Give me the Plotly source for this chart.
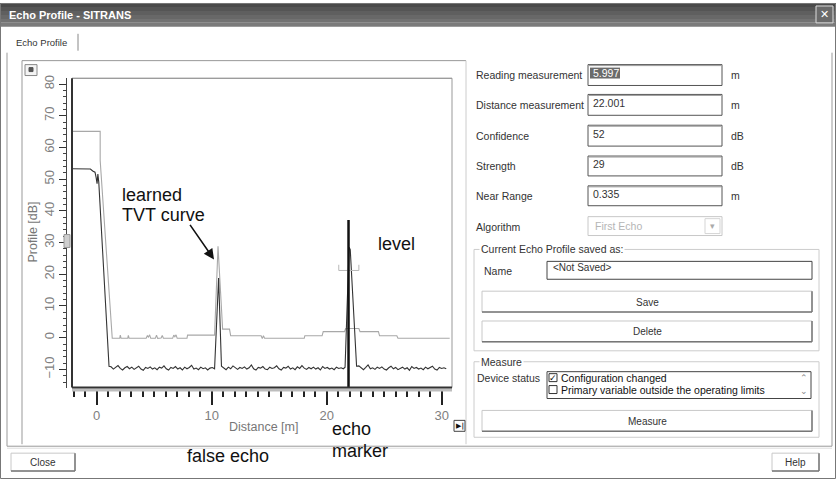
import plotly.graph_objects as go

# ---------------- data ----------------
# learned TVT curve (light grey)
tvt_distance = [-2.15, 0.3, 0.3, 1.35, 2.0, 2.05, 2.12, 2.7, 2.75, 2.82, 4.3, 4.4, 4.5, 4.6, 4.7,
                5.1, 5.2, 5.3, 5.6, 5.7, 5.8, 6.6, 6.7, 6.8, 6.9, 7.0, 7.85, 7.9, 10.25, 10.55,
                10.95, 11.55, 11.65, 14.3, 14.4, 14.5, 14.6, 18.05, 18.1, 19.6, 19.7, 21.55,
                21.65, 22.8, 22.9, 24.5, 24.6, 26.1, 26.2, 30.7]
tvt_db = [65.1, 65.1, 56.0, -0.2, -0.2, 0.8, -0.2, -0.2, 0.7, -0.2, -0.2, 0.6, 0.2, 0.9, -0.2,
          -0.2, 0.8, -0.2, -0.1, 0.7, -0.2, -0.2, 0.8, 0.3, 0.9, -0.2, -0.2, 0.8, 0.8, 28.8,
          2.7, 2.7, 0.6, 0.6, -0.3, 0.6, -0.2, -0.2, 0.6, 0.6, 1.9, 1.9,
          2.9, 2.9, 1.9, 1.9, 0.6, 0.6, -0.2, -0.2]

# echo profile (dark grey), in segments
echo_start_distance = [-2.15, -0.55, -0.35, -0.15, -0.05, 0.03, 0.1, 0.18, 1.07]
echo_start_db = [53.3, 53.2, 52.6, 52.2, 50.5, 48.6, 51.6, 49.0, -9.0]

echo_seg_a_distance = [1.25, 1.45, 1.65, 1.85, 2.05, 2.25, 2.45, 2.65, 2.85, 3.05,
                       3.25, 3.45, 3.65, 3.85, 4.05, 4.25, 4.45, 4.65, 4.85, 5.05,
                       5.25, 5.45, 5.65, 5.85, 6.05, 6.25, 6.45, 6.65, 6.85, 7.05,
                       7.25, 7.45, 7.65, 7.85, 8.05, 8.25, 8.45, 8.65, 8.85, 9.05,
                       9.25, 9.45, 9.65, 9.85, 10.05, 10.25]
echo_seg_a_db = [-9.2, -9.9, -9.4, -8.8, -9.7, -10.2, -9.5, -9.1, -9.8, -9.3,
                 -10.0, -9.6, -9.0, -9.9, -10.3, -9.4, -9.7, -9.2, -9.9, -9.5,
                 -10.1, -9.3, -9.6, -8.9, -9.8, -10.2, -9.4, -9.7, -9.1, -9.9,
                 -9.5, -10.2, -9.3, -9.8, -9.4, -8.7, -9.9, -9.6, -10.1, -9.3,
                 -9.8, -9.5, -10.2, -9.6, -9.4, -9.8]

false_echo_distance = [10.6, 10.85]
false_echo_db = [18.8, -9.0]

echo_seg_b_distance = [11.05, 11.25, 11.45, 11.65, 11.85, 12.05, 12.25, 12.45, 12.65, 12.85,
                       13.05, 13.25, 13.45, 13.65, 13.85, 14.05, 14.25, 14.45, 14.65, 14.85,
                       15.05, 15.25, 15.45, 15.65, 15.85, 16.05, 16.25, 16.45, 16.65, 16.85,
                       17.05, 17.25, 17.45, 17.65, 17.85, 18.05, 18.25, 18.45, 18.65, 18.85,
                       19.05, 19.25, 19.45, 19.65, 19.85, 20.05, 20.25, 20.45, 20.65, 20.85,
                       21.05, 21.25, 21.45]
echo_seg_b_db = [-9.6, -10.1, -9.3, -9.8, -8.9, -9.5, -10.0, -9.4, -9.7, -9.2,
                 -9.9, -9.5, -8.6, -9.8, -10.2, -9.4, -9.6, -9.1, -9.9, -10.1,
                 -9.3, -9.7, -9.5, -8.9, -9.8, -10.2, -9.4, -9.6, -9.0, -9.9,
                 -9.5, -10.1, -9.2, -9.7, -8.8, -9.6, -10.0, -9.4, -9.8, -9.3,
                 -9.9, -9.5, -10.2, -9.1, -9.7, -9.4, -9.9, -9.6, -10.1, -9.3,
                 -9.7, -9.5, -9.8]

level_echo_distance = [21.6, 21.95, 22.05, 22.3, 22.6]
level_echo_db = [-9.3, 28.5, 27.8, 9.0, -9.0]

echo_seg_c_distance = [22.8, 23.0, 23.2, 23.4, 23.6, 23.8, 24.0, 24.2, 24.4, 24.6,
                       24.8, 25.0, 25.2, 25.4, 25.6, 25.8, 26.0, 26.2, 26.4, 26.6,
                       26.8, 27.0, 27.2, 27.4, 27.6, 27.8, 28.0, 28.2, 28.4, 28.6,
                       28.8, 29.0, 29.2, 29.4, 29.6, 29.8, 30.0, 30.2, 30.4]
echo_seg_c_db = [-8.9, -9.6, -10.1, -9.4, -8.6, -9.8, -9.5, -10.0, -9.3, -9.7,
                 -9.2, -9.9, -10.2, -9.5, -9.0, -9.8, -9.4, -10.1, -9.6, -9.3,
                 -9.9, -9.5, -10.3, -9.1, -9.7, -9.4, -9.9, -9.6, -10.1, -9.3,
                 -9.8, -9.5, -9.0, -9.9, -10.2, -9.4, -9.7, -9.5, -9.8]

echo_marker_distance = [21.9, 21.9]
echo_marker_db = [-15.74, 37.1]

window_bracket_distance = [21.05, 21.05, 22.8, 22.8]
window_bracket_db = [23.0, 21.2, 21.2, 23.0]

x_range = [-2.15, 30.9]
y_range = [-15.74, 81.85]

field_labels = ["Reading measurement", "Distance measurement", "Confidence", "Strength", "Near Range"]
field_values = ["5.997", "22.001", "52", "29", "0.335"]
field_units = ["m", "m", "dB", "dB", "m"]

echo_distance = (echo_start_distance + echo_seg_a_distance + false_echo_distance +
                 echo_seg_b_distance + level_echo_distance + echo_seg_c_distance)
echo_db = (echo_start_db + echo_seg_a_db + false_echo_db + echo_seg_b_db +
           level_echo_db + echo_seg_c_db)
assert len(echo_distance) == len(echo_db)
assert len(tvt_distance) == len(tvt_db)

# ---------------- layout helpers (pixel -> paper) ----------------
W, H = 836, 479
def px(x): return x / W
def py(y): return 1 - y / H

UI = "Liberation Sans, Arial, sans-serif"
NARROW = "Liberation Sans Narrow, Arial Narrow, Liberation Sans, sans-serif"

shapes = []
annotations = []

def rect(x0, y0, x1, y1, line="#888", fill=None, w=1):
    shapes.append(dict(type="rect", xref="paper", yref="paper", x0=px(x0), x1=px(x1),
                       y0=py(y1), y1=py(y0), line=dict(color=line, width=w),
                       fillcolor=fill if fill else "rgba(0,0,0,0)", layer="above"))

def line(x0, y0, x1, y1, color="#888", w=1):
    shapes.append(dict(type="line", xref="paper", yref="paper", x0=px(x0), x1=px(x1),
                       y0=py(y0), y1=py(y1), line=dict(color=color, width=w), layer="above"))

def text(x, y, s, size=10.5, color="#333", anchor="left", font=UI, bg=None, angle=0):
    a = dict(x=px(x), y=py(y), xref="paper", yref="paper", text=s, showarrow=False,
             xanchor=anchor, yanchor="middle", textangle=angle,
             font=dict(family=font, size=size, color=color))
    if bg:
        a["bgcolor"] = bg
    annotations.append(a)

def button(x0, y0, x1, y1, label):
    rect(x0, y0, x1, y1, line="#c8c8c8", fill="#ffffff")
    line(x1, y0, x1, y1, "#777", 1.5)
    line(x0, y1, x1, y1, "#777", 1.5)
    text((x0 + x1) / 2, (y0 + y1) / 2 + 0.5, label, size=10, anchor="center")

# ---------------- window chrome ----------------
bands = ["#4a4a4a", "#555555", "#5f5f5f", "#686868", "#727272", "#7b7b7b"]
for i, c in enumerate(bands):
    rect(0, i * 4, W, i * 4 + 4, line=c, fill=c, w=0)
text(7, 12, "<b>Echo Profile - SITRANS</b>", size=11, color="#ffffff")
rect(816, 3, 833, 20, line="#dddddd", fill="#6a6a6a")
text(824.5, 11.5, "<b>✕</b>", size=11, color="#ffffff", anchor="center", font="DejaVu Sans")
rect(0.5, 0.5, W - 0.5, H - 0.5, line="#777", w=1)

# tab
text(14, 40, "Echo Profile", size=9.5)
line(78, 31, 78, 48, "#888", 1)
line(7, 50, 7, 446, "#999", 1)
line(832, 50, 832, 446, "#999", 1)
line(22, 58, 466, 58, "#999", 1)
line(22, 58, 22, 444, "#999", 1)
line(466, 58, 466, 444, "#ccc", 1)
line(7, 446, 832, 446, "#999", 1)
line(7, 448, 832, 448, "#ddd", 1)

button(11, 453, 75, 471, "Close")
button(772, 453, 819, 471, "Help")

# chart panel decorations
rect(25, 62, 37, 73, line="#888", fill="#f4f4f4")
rect(29, 65, 33, 69, line="#555", fill="#555")
rect(64, 233, 70, 246, line="#999", fill="#cfcfcf")
rect(454, 420, 465, 431, line="#444", fill="#ffffff")
text(459.5, 425.5, "<b>▶|</b>", size=7, color="#111", anchor="center", font="DejaVu Sans")

# plot frame
line(72, 75.7, 452, 75.7, "#777", 1)
line(452, 75.7, 452, 387, "#999", 1)
line(72, 75.7, 72, 387, "#333", 2)
rect(72, 388, 452, 391, line="#bdbdbd", fill="#bdbdbd", w=0)
line(72, 387, 452, 387, "#333", 2)

text(263, 427, "Distance [m]", size=12.5, color="#777", anchor="center")
text(33, 231, "Profile [dB]", size=12.5, color="#777", anchor="center", angle=-90)

# ---------------- right panel ----------------
rows_y = [(62, 83), (92, 113), (123, 144), (154, 174), (184, 204)]
for (lab, val, unit, (t, b)) in zip(field_labels, field_values, field_units, rows_y):
    text(474, (t + b) / 2, lab)
    rect(588, t, 722, b, line="#555", fill="#ffffff")
    line(589, t + 1, 721, t + 1, "#999", 1)
    if val == "5.997":
        rect(590, t + 3, 620, t + 14, line="#666", fill="#6b6b6b", w=0)
        text(591, t + 8.5, val, color="#ffffff")
    else:
        text(591, t + 8.5, val)
    text(729, (t + b) / 2, unit)

text(474, 225, "Algorithm")
rect(588, 215, 722, 234, line="#c8c8c8", fill="#ffffff")
rect(705, 217, 720, 232, line="#d5d5d5", fill="#ffffff")
text(712.5, 224.5, "▾", size=9, color="#aaa", anchor="center", font="DejaVu Sans")
text(593, 224.5, "First Echo", color="#b5b5b5")

# group box 1
rect(474, 248, 819, 350, line="#cccccc")
text(479, 248, "Current Echo Profile saved as:", bg="#ffffff")
text(482, 270, "Name")
rect(547, 260, 812, 278, line="#444", fill="#ffffff")
text(551, 266, "&lt;Not Saved&gt;", size=10)
button(482, 290, 812, 311, "Save")
button(482, 320, 812, 341, "Delete")

# group box 2
rect(474, 361, 819, 437, line="#cccccc")
text(479, 361, "Measure", bg="#ffffff")
text(475, 377, "Device status")
rect(547, 371, 811, 398, line="#444", fill="#ffffff")
rect(549, 373, 557, 381, line="#333", fill="#ffffff")
text(553, 377, "✓", size=9, color="#111", anchor="center", font="DejaVu Sans")
text(559, 377, "Configuration changed", color="#111")
rect(549, 385, 557, 393, line="#333", fill="#ffffff")
text(559, 389, "Primary variable outside the operating limits", color="#111")
text(804, 377, "⌃", size=9, color="#888", anchor="center", font="DejaVu Sans")
text(804, 390, "⌄", size=9, color="#888", anchor="center", font="DejaVu Sans")
button(482, 410, 812, 431, "Measure")

# ---------------- callout labels ----------------
CS = 18
text(120, 193, "learned", size=CS, color="#111", font=NARROW)
text(120, 213, "TVT curve", size=CS, color="#111", font=NARROW)
text(376, 243, "level", size=CS, color="#111", font=NARROW)
text(185, 456, "false echo", size=CS, color="#111", font=NARROW)
text(330, 429, "echo", size=CS, color="#111", font=NARROW)
text(330, 451, "marker", size=CS, color="#111", font=NARROW)

# ---------------- figure ----------------
fig = go.Figure()
fig.add_trace(go.Scatter(x=tvt_distance, y=tvt_db, mode="lines",
                         line=dict(color="#a8a8a8", width=1.1), hoverinfo="skip"))
fig.add_trace(go.Scatter(x=echo_distance, y=echo_db, mode="lines",
                         line=dict(color="#333333", width=1.1), hoverinfo="skip"))
fig.add_trace(go.Scatter(x=window_bracket_distance, y=window_bracket_db, mode="lines",
                         line=dict(color="#b8b8b8", width=1), hoverinfo="skip"))
fig.add_trace(go.Scatter(x=echo_marker_distance, y=echo_marker_db, mode="lines",
                         line=dict(color="#111111", width=2.5), hoverinfo="skip"))

annotations.append(dict(x=10.2, y=24.7, xref="x", yref="y", ax=-25, ay=-36,
                        showarrow=True, arrowhead=2, arrowsize=1.3, arrowwidth=1.6,
                        arrowcolor="#111", text=""))

fig.update_layout(
    width=W, height=H,
    margin=dict(l=0, r=0, t=0, b=0),
    paper_bgcolor="#ffffff", plot_bgcolor="#ffffff",
    showlegend=False,
    xaxis=dict(domain=[px(72), px(452)], range=x_range, anchor="y",
               showgrid=False, zeroline=False, showline=False,
               ticks="outside", ticklen=16, tickcolor="#222222", tickwidth=1.5,
               tickmode="linear", tick0=0, dtick=10,
               minor=dict(ticks="outside", ticklen=8, tickcolor="#222222", tickwidth=1.5,
                          dtick=1, tick0=0, showgrid=False),
               tickfont=dict(family=UI, size=13, color="#808080")),
    yaxis=dict(domain=[py(387), py(75.7)], range=y_range, anchor="free", position=px(66),
               showgrid=False, zeroline=False, showline=True, linecolor="#444", linewidth=1,
               ticks="outside", ticklen=7, tickcolor="#333333", tickwidth=1.2,
               tickmode="linear", tick0=0, dtick=10, tickangle=-90,
               minor=dict(ticks="outside", ticklen=3, tickcolor="#444444", tickwidth=1.2,
                          dtick=2, tick0=0, showgrid=False),
               tickfont=dict(family=UI, size=13, color="#808080")),
    shapes=shapes,
    annotations=annotations,
)

fig.write_html("out.html", config={"displayModeBar": False},
               post_script="document.body.style.margin='0';document.body.style.overflow='hidden';")
